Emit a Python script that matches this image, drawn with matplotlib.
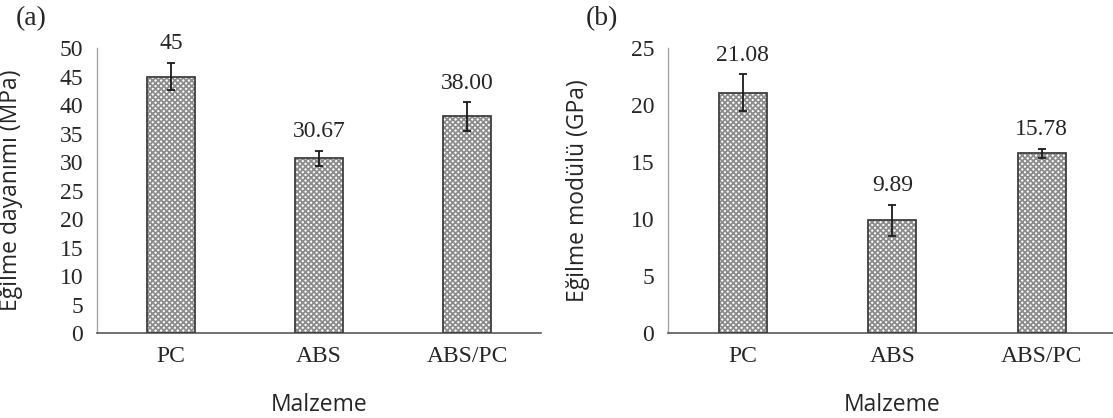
###############################################################################
#0. Import Modules
###############################################################################

import matplotlib
matplotlib.use('Agg')
import matplotlib.pyplot as plt
import numpy as np

###############################################################################
#1. Data
###############################################################################

materials = ['PC', 'ABS', 'ABS/PC']

strengthValues = [45, 30.67, 38.00] #Flexural strength (MPa)
strengthErrors = [2.4, 1.3, 2.5]
strengthLabels = ['45', '30.67', '38.00']

modulusValues = [21.08, 9.89, 15.78] #Flexural modulus (GPa)
modulusErrors = [1.6, 1.35, 0.4]
modulusLabels = ['21.08', '9.89', '15.78']

###############################################################################
#2. Figure setup
###############################################################################

plt.rcParams['hatch.linewidth'] = 1.3
serifFont = 'Liberation Serif'
sansFont = 'Open Sans'

fig = plt.figure(figsize=(11.13, 4.18), dpi=100)
ax1 = fig.add_axes([0.0872, 0.2033, 0.3989, 0.6818])
ax2 = fig.add_axes([0.6002, 0.2033, 0.4030, 0.6818])

def plotPanel(ax, values, errors, labels, ymax, ylabel, panelTag, tagX, ylabelX):
    xPos = np.arange(len(materials))
    #Hatched fill first, then a darker outline on top
    ax.bar(xPos, values, width=0.32, color='white', edgecolor='#8c8c8c', hatch='xxxxxx', linewidth=0, zorder=2)
    ax.bar(xPos, values, width=0.32, fill=False, edgecolor='#404040', linewidth=1.3, zorder=3)
    ax.errorbar(xPos, values, yerr=errors, fmt='none', ecolor='#1a1a1a', elinewidth=1.3, capsize=3, capthick=1.3, zorder=4)

    #Value labels above the error bars
    for x, v, e, lab in zip(xPos, values, errors, labels):
        ax.annotate(lab, xy=(x, v + e), xytext=(0, 19*0.72), textcoords='offset points',
                    ha='center', va='center', fontsize=17, family=serifFont, color='#262626', clip_on=False)

    ax.set_xlim(-0.5, 2.5)
    ax.set_ylim(0, ymax)
    ax.set_yticks(np.arange(0, ymax + 1, 5))
    ax.set_xticks(xPos)
    ax.set_xticklabels(materials)
    for lab in ax.get_xticklabels() + ax.get_yticklabels():
        lab.set_family(serifFont)
        lab.set_fontsize(17)
        lab.set_color('#262626')
    ax.tick_params(axis='y', length=0, pad=10)
    ax.tick_params(axis='x', length=0, pad=9)

    #Only left and bottom axis lines
    ax.spines['top'].set_visible(False)
    ax.spines['right'].set_visible(False)
    ax.spines['left'].set_color('#a6a6a6')
    ax.spines['bottom'].set_color('#595959')
    ax.spines['left'].set_linewidth(1.0)
    ax.spines['bottom'].set_linewidth(1.2)

    ax.set_ylabel(ylabel, fontsize=16.5, family=sansFont, color='#262626')
    ax.yaxis.set_label_coords(ylabelX, 0.5)
    ax.set_xlabel('Malzeme', fontsize=16.5, family=sansFont, color='#262626', labelpad=19)
    fig.text(tagX, 1 - 19/418, panelTag, fontsize=20, family=serifFont, color='#262626', ha='center', va='center')

###############################################################################
#3. Plot both panels
###############################################################################

plotPanel(ax1, strengthValues, strengthErrors, strengthLabels, 50, 'Eğilme dayanımı (MPa)', '(a)', 31/1113, -(97-23)/444)
plotPanel(ax2, modulusValues, modulusErrors, modulusLabels, 25, 'Eğilme modülü (GPa)', '(b)', 602/1113, -(668-590)/448.5)

###############################################################################
#4. Save figure
###############################################################################

fig.savefig('out.png', dpi=100)
